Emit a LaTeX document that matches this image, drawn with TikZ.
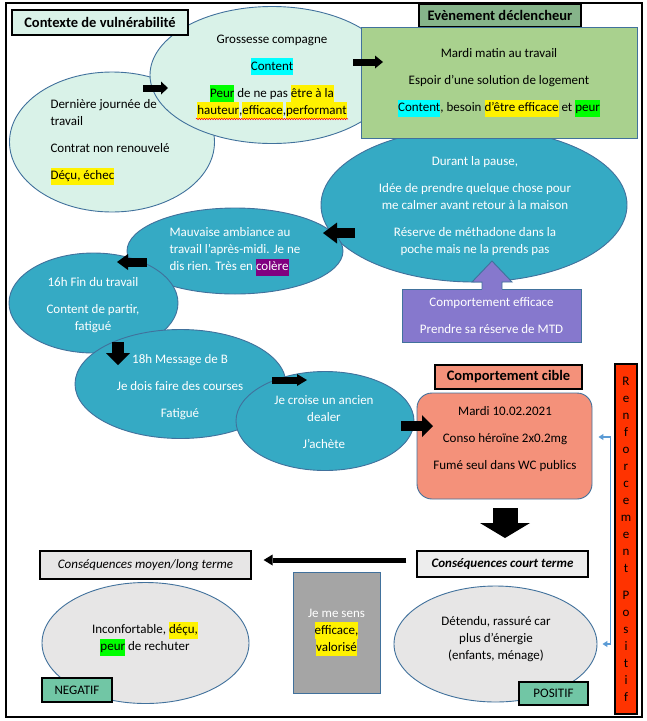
\documentclass[tikz,border=0pt]{standalone}
\usepackage{fontspec}
\setmainfont{Carlito}
\usepackage{tikz}
\usetikzlibrary{arrows.meta,shapes.geometric,decorations.pathmorphing}

\definecolor{mint}{HTML}{D9F2E8}
\definecolor{edgeblue}{HTML}{41719C}
\definecolor{teal}{HTML}{35AAC4}
\definecolor{leaf}{HTML}{A9D18E}
\definecolor{leafhead}{HTML}{86B48A}
\definecolor{purp}{HTML}{8678CD}
\definecolor{salmon}{HTML}{F4917A}
\definecolor{renfred}{HTML}{FF3300}
\definecolor{pale}{HTML}{E7E6E6}
\definecolor{paler}{HTML}{EDEDED}
\definecolor{slate}{HTML}{A5A5A5}
\definecolor{jade}{HTML}{71C6A5}
\definecolor{connblue}{HTML}{5B9BD5}
\definecolor{hlcyan}{HTML}{00FFFF}
\definecolor{hlgreen}{HTML}{00FF00}
\definecolor{hlpurple}{HTML}{800080}

\newcommand\hlc[2]{{\setlength\fboxsep{0pt}\colorbox{#1}{\strut #2}}}

\tikzset{
  body/.style={font=\fontsize{13}{17}\selectfont, inner sep=0pt},
  head/.style={draw=black, line width=1.2pt, inner sep=0pt, font=\fontsize{14.5}{17}\selectfont\bfseries},
  bubble/.style={ellipse, draw=edgeblue, line width=0.9pt, inner sep=0pt},
  panel/.style={rectangle, draw=edgeblue, line width=0.9pt, inner sep=0pt},
  tag/.style={draw=black, line width=1.2pt, fill=jade, inner sep=0pt, font=\fontsize{13}{17}\selectfont},
  blk/.style n args={3}{line width=#1, -{Triangle[width=#2, length=#3, line width=0pt]}},
  renf/.style={draw=connblue, line width=1.1pt, {Triangle[length=5pt,width=6pt]}-{Triangle[length=5pt,width=6pt]}}
}

\begin{document}
\begin{tikzpicture}[x=1pt,y=-1pt]
\useasboundingbox (0,0) rectangle (646,721);
\draw[line width=1.3pt] (6,3) rectangle (642,717);

% contexte de vulnerabilite
\node[bubble, fill=mint, minimum width=205, minimum height=140] (derniere) at (112,142) {};
\node[body, align=left] (derniere-t) at (110,142) {Dernière journée de\\travail\\[10pt]Contrat non renouvelé\\[10pt]\hlc{yellow}{Déçu, échec}};
\node[bubble, fill=mint, minimum width=244, minimum height=137] (grossesse) at (272,75) {};
\node[body, align=center] (grossesse-t) at (272,77) {Grossesse compagne\\[10pt]\hlc{hlcyan}{Content}\\[10pt]\hlc{hlgreen}{Peur} de ne pas \hlc{yellow}{être à la}\\\hlc{yellow}{hauteur},\hlc{yellow}{efficace},\hlc{yellow}{performant}};
\draw[red, line width=0.5pt, decorate, decoration={snake, amplitude=0.7pt, segment length=2.5pt}] (196,119) -- (348,119);
\node[head, fill=mint, minimum width=176, minimum height=25] (contexte) at (100,22.5) {Contexte de vulnérabilité};

% evenement declencheur
\node[bubble, fill=teal, minimum width=306, minimum height=154] (pause) at (474,205) {};
\node[body, align=center, text=white] (pause-t) at (475,206) {Durant la pause,\\[10pt]Idée de prendre quelque chose pour\\me calmer avant retour à la maison\\[10pt]Réserve de méthadone dans la\\poche mais ne la prends pas};
\node[head, fill=leafhead, minimum width=162, minimum height=23] (evenement) at (500,15.5) {Evènement déclencheur};
\node[panel, fill=leaf, minimum width=276, minimum height=111, body, align=center] (mardi) at (499,82.5) {Mardi matin au travail\\[10pt]Espoir d’une solution de logement\\[10pt]\hlc{hlcyan}{Content}, besoin \hlc{yellow}{d’être efficace} et \hlc{hlgreen}{peur}};

\coordinate (a1s) at (143,88);  \coordinate (a1e) at (168,88);
\coordinate (a2s) at (353,62);  \coordinate (a2e) at (383,62);
\draw[blk={7pt}{13pt}{7pt}] (a1s) -- (a1e);
\draw[blk={7pt}{13pt}{8pt}] (a2s) -- (a2e);

% comportement efficace
\node[panel, fill=purp, minimum width=179, minimum height=53, body, align=center, text=white] (efficace) at (491.5,315.5) {Comportement efficace\\[10pt]Prendre sa réserve de MTD};
\fill[purp] (482,290.5) -- (482,282) -- (472,282) -- (492,261) -- (512,282) -- (502,282) -- (502,290.5) -- cycle;
\draw[edgeblue, line width=0.9pt] (482,289) -- (482,282) -- (472,282) -- (492,261) -- (512,282) -- (502,282) -- (502,289);

% apres-midi
\node[bubble, fill=teal, minimum width=216, minimum height=86] (mauvaise) at (235,251) {};
\node[body, align=left, text=white] (mauvaise-t) at (235,252) {Mauvaise ambiance au\\travail l’après-midi. Je ne\\dis rien. Très en \hlc{hlpurple}{colère}};
\node[bubble, fill=teal, minimum width=169, minimum height=100] (finjob) at (93.5,303) {};
\node[body, align=center, text=white] (finjob-t) at (93,305) {16h Fin du travail\\[10pt]Content de partir,\\fatigué};
\node[bubble, fill=teal, minimum width=211, minimum height=109] (message) at (180.5,384) {};
\node[body, align=center, text=white] (message-t) at (180,387) {18h Message de B\\[10pt]Je dois faire des courses\\[10pt]Fatigué};
\node[bubble, fill=teal, minimum width=178, minimum height=99] (dealer) at (325,421) {};
\node[body, align=center, text=white] (dealer-t) at (324,422) {Je croise un ancien\\dealer\\[10pt]J’achète};

\coordinate (a3s) at (355,233);  \coordinate (a3e) at (323,233);
\coordinate (a4s) at (147,262);  \coordinate (a4e) at (117,262);
\coordinate (a5s) at (118,342);  \coordinate (a5e) at (118,365);
\coordinate (a6s) at (272,380);  \coordinate (a6e) at (307,380);
\coordinate (a7s) at (401,426);  \coordinate (a7e) at (433,426);
\draw[blk={10pt}{21pt}{14pt}] (a3s) -- (a3e);
\draw[blk={9pt}{16pt}{11pt}] (a4s) -- (a4e);
\draw[blk={12pt}{24pt}{12pt}] (a5s) -- (a5e);
\draw[blk={7pt}{12pt}{10pt}] (a6s) -- (a6e);

% comportement cible
\node[head, fill=salmon, minimum width=147, minimum height=24] (cible) at (508.5,377) {Comportement cible};
\node[panel, fill=salmon, rounded corners=15pt, minimum width=175, minimum height=106] (conso) at (504.5,446) {};
\node[body, align=center] (conso-t) at (505,439) {Mardi 10.02.2021\\[10pt]Conso héroïne 2x0.2mg\\[10pt]Fumé seul dans WC publics};
\draw[blk={10pt}{22pt}{11pt}] (a7s) -- (a7e);

\node[draw=black, line width=1.2pt, fill=renfred, minimum width=22, minimum height=350, inner sep=0pt, body, align=center] (renfort) at (626,539) {R\\e\\n\\f\\o\\r\\c\\e\\m\\e\\n\\t\\[10pt]P\\o\\s\\i\\t\\i\\f};

% consequences
\node[draw=black, line width=1.2pt, fill=paler, minimum width=171, minimum height=26, inner sep=0pt, font=\fontsize{13}{17}\selectfont\bfseries\itshape] (court) at (502.5,564) {Conséquences court terme};
\node[draw=black, line width=1.2pt, fill=pale, minimum width=211, minimum height=28, inner sep=0pt, font=\fontsize{13}{17}\selectfont\itshape] (moyen) at (145.5,565) {Conséquences moyen/long terme};
\coordinate (a8s) at (505,508);  \coordinate (a8e) at (505,538);
\draw[blk={25pt}{50pt}{15pt}] (a8s) -- (a8e);
\draw[blk={5pt}{11pt}{9pt}] ([xshift=-10pt,yshift=4pt]court.west) -- ([xshift=12pt,yshift=4pt]court.west -| moyen.east);

\node[bubble, fill=pale, minimum width=207, minimum height=121] (inconf) at (145.5,643) {};
\node[body, align=center] (inconf-t) at (145,639) {Inconfortable, \hlc{yellow}{déçu,}\\\hlc{hlgreen}{peur} de rechuter};
\node[tag, minimum width=70, minimum height=24] (negatif) at (77,690) {NEGATIF};

\node[panel, fill=slate, minimum width=87, minimum height=121, body, align=center, text=white] (sens) at (336.5,632.5) {Je me sens\\\hlc{yellow}{\color{black}efficace,}\\\hlc{yellow}{\color{black}valorisé}};

\node[bubble, fill=pale, minimum width=203, minimum height=116] (detendu) at (495.5,644) {};
\node[body, align=center] (detendu-t) at (496,639) {Détendu, rassuré car\\plus d’énergie\\(enfants, ménage)};
\node[tag, minimum width=69, minimum height=23] (positif) at (553.5,693.5) {POSITIF};

\draw[renf] ([xshift=5pt]detendu.east) -- ++(8,0) |- ([xshift=6pt,yshift=9pt]conso.east);
\end{tikzpicture}
\end{document}
